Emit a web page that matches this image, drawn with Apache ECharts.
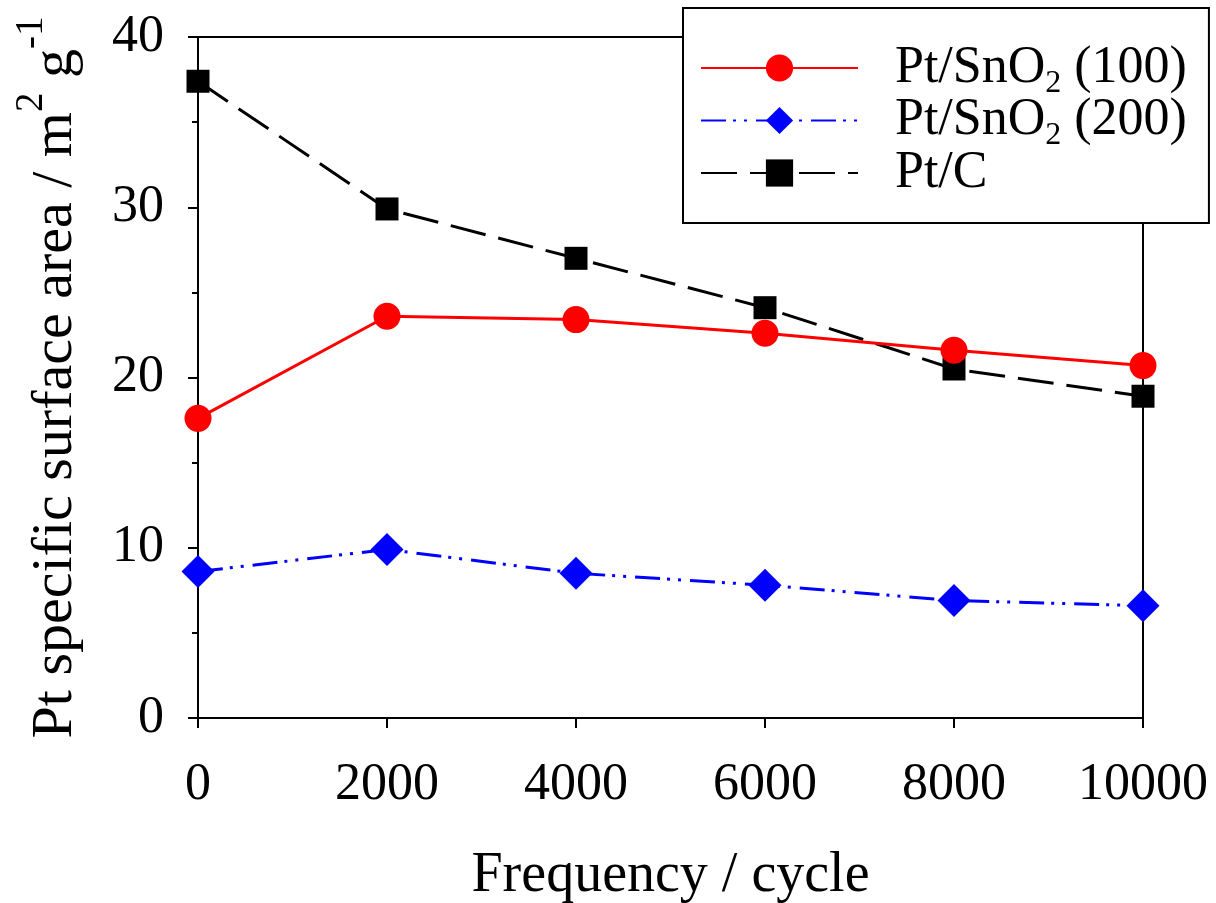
<!DOCTYPE html>
<html>
<head>
<meta charset="utf-8">
<script src="https://cdn.jsdelivr.net/npm/echarts@6/dist/echarts.min.js"></script>
<style>
html,body{margin:0;padding:0;background:#fff;}
#chart{width:1216px;height:903px;}
</style>
</head>
<body>
<div id="chart"></div>
<script>
// Data
const cycles = [0, 2000, 4000, 6000, 8000, 10000];
const ptSnO2_100 = [17.6, 23.6, 23.4, 22.6, 21.6, 20.7];
const ptSnO2_200 = [8.6, 9.9, 8.5, 7.8, 6.9, 6.6];
const ptC = [37.4, 29.9, 27.0, 24.1, 20.5, 18.9];
const seriesNames = ['Pt/SnO2 (100)', 'Pt/SnO2 (200)', 'Pt/C'];
const xTitle = 'Frequency / cycle';
const yTitleRich = '{b|Pt specific surface area / m}{sup|2}{b| g}{sup|-1}';

const FONT = '"Liberation Serif", "Times New Roman", serif';
const pairs = arr => cycles.map((c, i) => [c, arr[i]]);

const chart = echarts.init(document.getElementById('chart'), null, {renderer: 'canvas'});
chart.setOption({
  animation: false,
  backgroundColor: '#fff',
  grid: {
    left: 198, right: 73, top: 37, bottom: 185,
    outerBoundsMode: 'none', containLabel: false,
    show: true, borderColor: '#000', borderWidth: 2, backgroundColor: 'transparent'
  },
  xAxis: {
    type: 'value', min: 0, max: 10000, interval: 2000,
    name: xTitle, nameLocation: 'middle', nameGap: 130,
    nameTextStyle: {fontFamily: FONT, fontSize: 56, color: '#000'},
    axisLine: {show: true, onZero: false, lineStyle: {color: '#000', width: 2}},
    axisTick: {show: true, inside: false, length: 10, lineStyle: {color: '#000', width: 2}},
    axisLabel: {fontFamily: FONT, fontSize: 52, color: '#000', margin: 41,
      formatter: v => String(v)},
    splitLine: {show: false}
  },
  yAxis: {
    type: 'value', min: 0, max: 40, interval: 10,
    name: yTitleRich, nameLocation: 'middle', nameGap: 98, nameRotate: 90,
    nameTextStyle: {
      fontFamily: FONT, color: '#000',
      rich: {
        b: {fontFamily: FONT, fontSize: 58, color: '#000', lineHeight: 88, verticalAlign: 'middle'},
        sup: {fontFamily: FONT, fontSize: 39, color: '#000', lineHeight: 39, verticalAlign: 'top'}
      }
    },
    axisLine: {show: true, lineStyle: {color: '#000', width: 2}},
    axisTick: {show: true, inside: false, length: 10, lineStyle: {color: '#000', width: 2}},
    minorTick: {show: true, splitNumber: 2, length: 6, lineStyle: {color: '#000', width: 2}},
    axisLabel: {fontFamily: FONT, fontSize: 52, color: '#000', margin: 34},
    splitLine: {show: false},
    minorSplitLine: {show: false}
  },
  legend: {
    orient: 'vertical',
    left: 683, top: 8,
    padding: [34, 22, 24, 17],
    itemWidth: 157, itemHeight: 34, itemGap: -5,
    backgroundColor: '#fff', borderColor: '#000', borderWidth: 2, borderRadius: 0,
    data: seriesNames,
    formatter: function (name) {
      if (name.indexOf('SnO2') >= 0) {
        const parts = name.split('SnO2');
        return '{b|' + parts[0] + 'SnO}{sub|2}{b|' + parts[1] + '}';
      }
      return '{c|' + name + '}';
    },
    textStyle: {
      fontFamily: FONT, color: '#000', padding: [0, 0, 0, 32],
      rich: {
        b: {fontFamily: FONT, fontSize: 52, color: '#000', lineHeight: 63, verticalAlign: 'middle'},
        sub: {fontFamily: FONT, fontSize: 32, color: '#000', lineHeight: 16, verticalAlign: 'bottom'},
        c: {fontFamily: FONT, fontSize: 52, color: '#000', lineHeight: 52, verticalAlign: 'middle'}
      }
    },
    z: 10
  },
  series: [
    {
      name: seriesNames[0], type: 'line', data: pairs(ptSnO2_100),
      symbol: 'circle', symbolSize: 27,
      lineStyle: {color: '#ff0000', width: 3, type: 'solid'},
      itemStyle: {color: '#ff0000'}, z: 3
    },
    {
      name: seriesNames[1], type: 'line', data: pairs(ptSnO2_200),
      symbol: 'diamond', symbolSize: [33, 33],
      lineStyle: {color: '#0000ff', width: 3, type: [25, 7, 3, 8, 3, 9]},
      itemStyle: {color: '#0000ff'}, z: 3
    },
    {
      name: seriesNames[2], type: 'line', data: pairs(ptC),
      symbol: 'rect', symbolSize: 23,
      lineStyle: {color: '#000000', width: 3, type: [36, 13]},
      itemStyle: {color: '#000000'}, z: 2
    }
  ]
});
</script>
</body>
</html>
